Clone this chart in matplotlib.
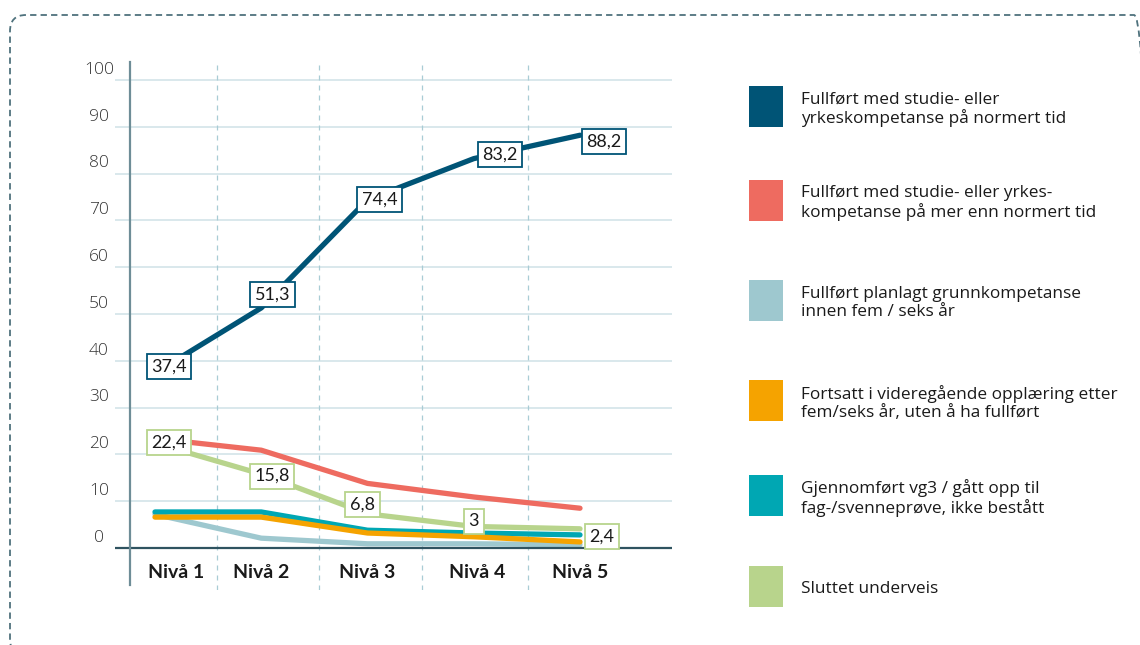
import matplotlib
matplotlib.use("Agg")
import matplotlib.pyplot as plt
from matplotlib.patches import Rectangle, FancyBboxPatch
from matplotlib.transforms import IdentityTransform

plt.rcParams['font.family'] = ['Lato', 'DejaVu Sans']

# ---------------- data ----------------
categories = ["Nivå 1", "Nivå 2", "Nivå 3", "Nivå 4", "Nivå 5"]
yticks = [0, 10, 20, 30, 40, 50, 60, 70, 80, 90, 100]

normert = [37.4, 51.3, 74.4, 83.2, 88.2]
normert_labels = ["37,4", "51,3", "74,4", "83,2", "88,2"]
mer_enn_normert = [23.4, 20.9, 13.8, 10.9, 8.5]
grunnkompetanse = [7.2, 2.1, 0.9, 0.9, 0.7]
fortsatt = [6.6, 6.6, 3.2, 2.4, 1.3]
gjennomfort = [7.7, 7.7, 3.8, 3.2, 2.8]
sluttet = [22.4, 15.8, 7.3, 4.6, 4.1]
sluttet_labels = ["22,4", "15,8", "6,8", "3", "2,4"]

legend_labels = [
    "Fullført med studie- eller\nyrkeskompetanse på normert tid",
    "Fullført med studie- eller yrkes-\nkompetanse på mer enn normert tid",
    "Fullført planlagt grunnkompetanse\ninnen fem / seks år",
    "Fortsatt i videregående opplæring etter\nfem/seks år, uten å ha fullført",
    "Gjennomført vg3 / gått opp til\nfag-/svenneprøve, ikke bestått",
    "Sluttet underveis",
]

c_blue = "#005476"
c_red = "#ee6b60"
c_light = "#9ec8cf"
c_orange = "#f5a300"
c_teal = "#00a7b3"
c_green = "#b8d48c"
legend_colors = [c_blue, c_red, c_light, c_orange, c_teal, c_green]

W, H = 1140, 645
fig = plt.figure(figsize=(W / 100, H / 100), dpi=100)

# dashed rounded border
border = FancyBboxPatch((10, -10), 1140, 645 - 15 + 10,
                        boxstyle="round,pad=0,rounding_size=16",
                        transform=IdentityTransform(), fill=False,
                        edgecolor="#4f727d", lw=1.3, linestyle=(0, (3.5, 2.3)))
fig.patches.append(border)

# axes placed by pixels
L, R, T, B = 115, 672, 60, 590
ax = fig.add_axes([L / W, (H - B) / H, (R - L) / W, (B - T) / H])
ax.set_facecolor("none")
x0px, dxpx = 155, 106.25
y0px, dypx = 548, 4.68
ax.set_xlim((L - x0px) / dxpx, (R - x0px) / dxpx)
ax.set_ylim(-(B - y0px) / dypx, 100 + (y0px - dypx * 100 - T) / dypx)
ax.axis("off")

xs = list(range(len(categories)))

# gridlines
for v in yticks[1:]:
    ax.axhline(v, color="#cfe2e7", lw=1.1, zorder=1)
for xv in [0.58, 1.54, 2.51, 3.51]:
    ax.axvline(xv, color="#a9ccd5", lw=0.9, linestyle=(0, (4, 4)), zorder=1)
ax.axhline(0, color="#2f5360", lw=1.6, zorder=6)
yax_x = (130 - x0px) / dxpx
ax.plot([yax_x, yax_x], [-(585 - y0px) / dypx, 100 + (80 - 62) / dypx],
        color="#6e8d97", lw=1.6, zorder=6, clip_on=False)

# y tick labels
for v in yticks:
    ax.text((99 - x0px) / dxpx, v + 2.2, str(v), ha="center", va="center",
            fontsize=12.5, color="#333333", clip_on=False,
            family=["Open Sans", "DejaVu Sans"], fontweight="light")

# x tick labels
xlab_shift = [0.2, 0, 0, 0.03, 0]
for i, lab in enumerate(categories):
    ax.text(i + xlab_shift[i], -(573 - y0px) / dypx, lab, ha="center", va="center",
            fontsize=14, fontweight="bold", color="#1a1a1a", clip_on=False)

lw = 3.8
kw = dict(lw=lw, solid_capstyle="round", solid_joinstyle="round")
ax.plot(xs, grunnkompetanse, color=c_light, zorder=2, **kw)
ax.plot(xs, gjennomfort, color=c_teal, zorder=3, **kw)
ax.plot(xs, fortsatt, color=c_orange, zorder=4, **kw)
ax.plot(xs, mer_enn_normert, color=c_red, zorder=4, **kw)
ax.plot(xs, sluttet, color=c_green, zorder=5, **kw)
ax.plot(xs, normert, color=c_blue, zorder=5, **kw)


def boxlabel(x, y, s, color, dx, dy):
    ax.annotate(s, (x, y), xytext=(dx * 0.72, dy * 0.72), textcoords="offset points",
                ha="center", va="center", fontsize=13, color="#1a1a1a", zorder=10,
                bbox=dict(boxstyle="square,pad=0.25", fc="white", ec=color, lw=1.3),
                annotation_clip=False)


blue_off = [(14, 6), (11, 13), (12, 0), (26, 4), (24, -6)]
for i, (v, s) in enumerate(zip(normert, normert_labels)):
    boxlabel(i, v, s, c_blue, *blue_off[i])

green_off = [(14, 1), (11, -2), (-5, 9), (0, 5), (22, -8)]
for i, (v, s) in enumerate(zip(sluttet, sluttet_labels)):
    boxlabel(i, v, s, c_green, *green_off[i])

# legend
centers = [106, 200, 300, 400, 495, 586]
for yc, col, lab in zip(centers, legend_colors, legend_labels):
    fig.patches.append(Rectangle((749, H - yc - 20.5), 34, 41, transform=IdentityTransform(),
                                 facecolor=col, edgecolor="none"))
    fig.text(801 / W, (H - yc - 3) / H, lab, ha="left", va="center", fontsize=12.4,
             color="#1a1a1a", linespacing=1.12, family=["Open Sans", "DejaVu Sans"])

fig.savefig("out.png", dpi=100)
